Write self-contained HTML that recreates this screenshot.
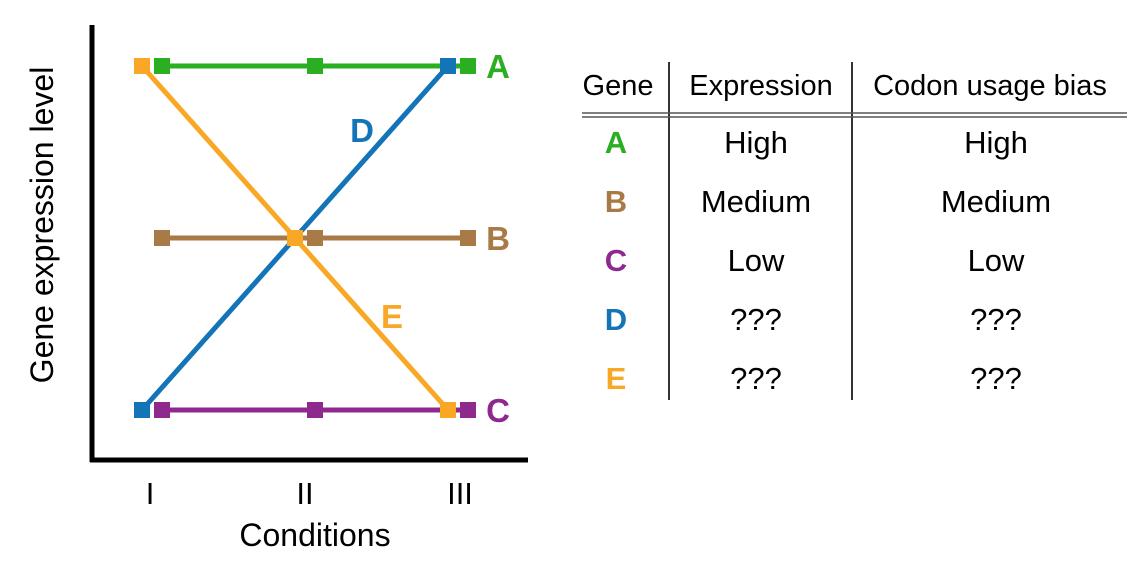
<!DOCTYPE html>
<html><head><meta charset="utf-8"><style>
html,body{margin:0;padding:0;background:#fff;}
svg{display:block;font-family:"Liberation Sans",Arial,sans-serif;}
</style></head><body>
<svg id="chart" width="1140" height="572" viewBox="0 0 1140 572">
<g id="plot"></g>
<line x1="92" y1="25" x2="92" y2="462" stroke="#000" stroke-width="5"/>
<line x1="90" y1="460" x2="528" y2="460" stroke="#000" stroke-width="5"/>
<g id="xticks"></g>
<text x="315" y="546" font-size="32" text-anchor="middle">Conditions</text>
<text transform="translate(53,225) rotate(-90)" font-size="32" text-anchor="middle">Gene expression level</text>
<g id="table">
<line x1="669" y1="62" x2="669" y2="400" stroke="#333" stroke-width="2"/>
<line x1="852" y1="62" x2="852" y2="400" stroke="#333" stroke-width="2"/>
<line x1="582" y1="113" x2="1127" y2="113" stroke="#555" stroke-width="1.5"/>
<line x1="582" y1="117" x2="1127" y2="117" stroke="#555" stroke-width="1.5"/>
<text x="618" y="95" font-size="29" text-anchor="middle">Gene</text>
<text x="761" y="95" font-size="29" text-anchor="middle">Expression</text>
<text x="990" y="95" font-size="29" text-anchor="middle">Codon usage bias</text>
</g>
</svg>
<script>
const conditions = ["I","II","III"];
const genes = ["A","B","C","D","E"];
const colors = ["#2aae22","#a87a46","#8e2a8e","#1474b8","#f9a826"];
const valsA = [3,3,3];
const valsB = [2,2,2];
const valsC = [1,1,1];
const valsD = [1,2,3];
const valsE = [3,2,1];
const expressionCol = ["High","Medium","Low","???","???"];
const codonCol = ["High","Medium","Low","???","???"];
const NS="http://www.w3.org/2000/svg";
function xs(i){return 142+i*153;}
function ys(v){return 410-(v-1)*172;}
function mk(tag,attrs,parent){const e=document.createElementNS(NS,tag);for(const k in attrs)e.setAttribute(k,attrs[k]);parent.appendChild(e);return e;}
const plot=document.getElementById('plot');
const series=[valsA,valsB,valsC,valsD,valsE];
const offs=[20,20,20,0,0];
[0,1,2,3,4].forEach(s=>{
  const v=series[s],o=offs[s],c=colors[s];
  const pl=mk('polyline',{points:v.map((d,i)=>(xs(i)+o)+","+ys(d)).join(" "),fill:"none",stroke:c,"stroke-width":5},plot);
  
  
  v.forEach((d,i)=>{
    const r=mk('rect',{x:xs(i)+o-8,y:ys(d)-8,width:16,height:16,fill:c},plot);
    
    
  });
});
const lblPos=[[498,ys(3)+12],[498,ys(2)+12],[498,ys(1)+12],[362,142],[392,328]];
genes.forEach((g,s)=>{
  const t=mk('text',{x:lblPos[s][0],y:lblPos[s][1],"font-size":33,"font-weight":"bold","text-anchor":"middle",fill:colors[s]},plot);
  t.textContent=g;
  
  
});
const xt=document.getElementById('xticks');
conditions.forEach((c,i)=>{
  const t=mk('text',{x:150+i*155,y:504,"font-size":31,"text-anchor":"middle"},xt);
  t.textContent=c;
  
  
});
const tb=document.getElementById('table');
genes.forEach((g,r)=>{
  const y=153+r*59;
  const a=mk('text',{x:616,y:y,"font-size":31,"font-weight":"bold","text-anchor":"middle",fill:colors[r]},tb);
  a.textContent=g;
  
  
  const b=mk('text',{x:756,y:y,"font-size":31,"text-anchor":"middle"},tb);
  b.textContent=expressionCol[r];
  
  
  const c=mk('text',{x:996,y:y,"font-size":31,"text-anchor":"middle"},tb);
  c.textContent=codonCol[r];
  
  
});
</script>
</body></html>
